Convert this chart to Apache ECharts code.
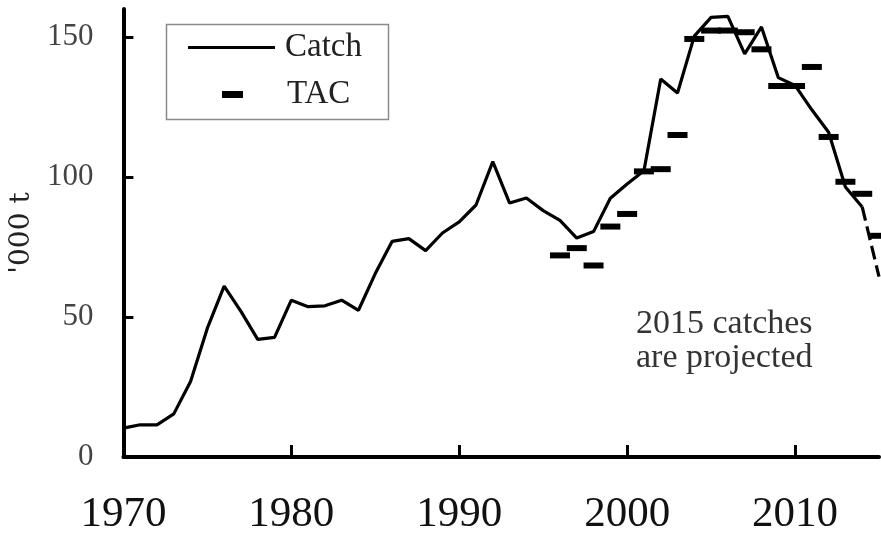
<!DOCTYPE html>
<html>
<head>
<meta charset="utf-8">
<script src="https://cdn.jsdelivr.net/npm/echarts@6/dist/echarts.min.js"></script>
<style>
html,body{margin:0;padding:0;background:#fff;}
#chart{width:881px;height:536px;}
</style>
</head>
<body>
<div id="chart"></div>
<script>
var catchYears = [1970,1971,1972,1973,1974,1975,1976,1977,1978,1979,1980,1981,1982,1983,1984,1985,1986,1987,1988,1989,1990,1991,1992,1993,1994,1995,1996,1997,1998,1999,2000,2001,2002,2003,2004,2005,2006,2007,2008,2009,2010,2011,2012,2013,2014];
var catchValues = [10.3,11.5,11.5,15.4,27,46,61,52,42,42.7,56,53.7,54,56,52.4,65.5,77,78,73.7,80,84,90,105.5,90.7,92.5,88,84.5,78.2,80.5,92.4,97.5,102.2,135,130,150.3,157,157.4,144,153.6,135.5,132.7,124,116,96.4,89.3];
var projYears = [2014,2015];
var projValues = [89.3,64.4];
var tacYears = [1996,1997,1998,1999,2000,2001,2002,2003,2004,2005,2006,2007,2008,2009,2010,2011,2012,2013,2014,2015];
var tacValues = [72,74.6,68.4,82.3,86.8,102,102.8,115,149.3,152.3,152.3,151.7,145.6,132.5,132.5,139.3,114.3,98.3,94,79];
var xTicks = [1970,1980,1990,2000,2010];
var yTicks = [0,50,100,150];

function pairs(xs, ys){ return xs.map(function(x,i){ return [x, ys[i]]; }); }

var chart = echarts.init(document.getElementById('chart'));
chart.setOption({
  animation: false,
  backgroundColor: '#fff',
  grid: {left: 121, right: 2, top: 9, bottom: 77, containLabel: false},
  xAxis: {
    type: 'value', min: 1970, max: 2015, interval: 10,
    axisLine: {show: true, lineStyle: {color: '#000', width: 4}},
    axisTick: {show: true, inside: true, length: 12, lineStyle: {color: '#000', width: 3}, customValues: xTicks},
    axisLabel: {show: true, margin: 36, color: '#111', fontFamily: 'Liberation Serif', fontSize: 43, customValues: xTicks,
      formatter: function(v){ return String(v); }},
    splitLine: {show: false}
  },
  yAxis: {
    type: 'value', min: 0, max: 160, interval: 50,
    name: "'000 t", nameLocation: 'middle', nameRotate: 90, nameGap: 78,
    nameTextStyle: {color: '#222', fontFamily: 'DejaVu Serif', fontSize: 28},
    axisLine: {show: true, lineStyle: {color: '#000', width: 4}},
    axisTick: {show: true, inside: true, length: 10, lineStyle: {color: '#000', width: 3}, customValues: [50,100,150]},
    axisLabel: {show: true, margin: 30, color: '#444', fontFamily: 'Liberation Serif', fontSize: 31, customValues: yTicks,
      formatter: function(v){ return String(v); }},
    splitLine: {show: false}
  },
  legend: [
    {
      data: [{name: 'Catch', icon: 'rect'}], left: 188, top: 31, padding: 0, selectedMode: false,
      itemWidth: 87, itemHeight: 3,
      textStyle: {color: '#222', fontFamily: 'Liberation Serif', fontSize: 33, padding: [0,0,0,5]}
    },
    {
      data: [{name: 'TAC', icon: 'rect'}], left: 222, top: 78, padding: 0, selectedMode: false,
      itemWidth: 21, itemHeight: 7,
      textStyle: {color: '#222', fontFamily: 'Liberation Serif', fontSize: 33, padding: [0,0,0,39]}
    }
  ],
  graphic: [
    {type: 'rect', left: 164, top: 22, shape: {width: 222, height: 95}, style: {fill: 'none', stroke: '#8a8a8a', lineWidth: 1.5}, z: 1},
    {type: 'text', left: 636, top: 307, style: {text: '2015 catches\nare projected', fill: '#333', font: '34px "Liberation Serif"', lineHeight: 34}}
  ],
  series: [
    {
      name: 'Catch', type: 'line', data: pairs(catchYears, catchValues),
      symbol: 'none', lineStyle: {color: '#000', width: 3.2}, itemStyle: {color: '#000'}, z: 3
    },
    {
      name: 'Catch (projected)', type: 'line', data: pairs(projYears, projValues),
      symbol: 'none', lineStyle: {color: '#000', width: 3.2, type: [14, 6]}, itemStyle: {color: '#000'}, z: 3
    },
    {
      name: 'TAC', type: 'scatter', data: pairs(tacYears, tacValues),
      symbol: 'rect', symbolSize: [20, 6], itemStyle: {color: '#000', opacity: 1}, z: 4
    }
  ]
});
</script>
</body>
</html>
